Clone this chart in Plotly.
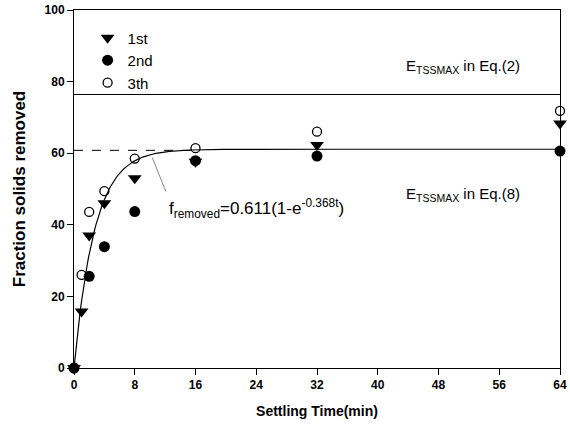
import numpy as np
import plotly.graph_objects as go

time_1st = [0, 1, 2, 4, 8, 16, 32, 64]
frac_1st = [0, 15.8, 37.0, 46.0, 53.0, 57.6, 62.3, 68.3]
time_2nd = [0, 2, 4, 8, 16, 32, 64]
frac_2nd = [0, 25.6, 33.9, 43.7, 57.9, 59.2, 60.6]
time_3rd = [0, 1, 2, 4, 8, 16, 32, 64]
frac_3rd = [0, 26.0, 43.6, 49.4, 58.5, 61.4, 66.0, 71.8]

fit_a = 0.611
fit_k = 0.368
e_tss_eq2 = 76.4
e_tss_eq8 = 60.8
x_ticks = [0, 8, 16, 24, 32, 40, 48, 56, 64]
y_ticks = [0, 20, 40, 60, 80, 100]

t_fit = np.linspace(0, 64, 400)
f_fit = 100 * fit_a * (1 - np.exp(-fit_k * t_fit))

fig = go.Figure()
fig.add_trace(go.Scatter(x=[0, 64], y=[e_tss_eq2, e_tss_eq2], mode="lines",
                         line=dict(color="black", width=1), showlegend=False))
fig.add_trace(go.Scatter(x=[0, 16], y=[e_tss_eq8, e_tss_eq8], mode="lines",
                         line=dict(color="black", width=1, dash="dash"), showlegend=False))
fig.add_trace(go.Scatter(x=t_fit, y=f_fit, mode="lines",
                         line=dict(color="black", width=1.2), showlegend=False))
fig.add_trace(go.Scatter(x=[10.3, 12.1], y=[58.8, 49.3], mode="lines",
                         line=dict(color="#888888", width=1), showlegend=False))

fig.add_trace(go.Scatter(x=time_1st, y=frac_1st, mode="markers", name="1st", cliponaxis=False,
                         marker=dict(symbol="triangle-down", size=12, color="black")))
fig.add_trace(go.Scatter(x=time_2nd, y=frac_2nd, mode="markers", name="2nd", cliponaxis=False,
                         marker=dict(symbol="circle", size=11, color="black")))
fig.add_trace(go.Scatter(x=time_3rd, y=frac_3rd, mode="markers", name="3th", cliponaxis=False,
                         marker=dict(symbol="circle-open", size=9, color="black",
                                     line=dict(width=1.3))))

ann_font = dict(family="Liberation Sans, Arial", size=15, color="black")
fig.add_annotation(x=12.3, y=44.5, xref="x", yref="y", xanchor="left", yanchor="middle",
                   text="f<sub>removed</sub>=0.611(1-e<sup>-0.368t</sup>)",
                   showarrow=False, font=dict(family="Liberation Sans, Arial", size=17, color="black"))
fig.add_annotation(x=43.5, y=84.3, xref="x", yref="y", xanchor="left", yanchor="middle",
                   text="E<sub>TSSMAX</sub> in Eq.(2)", showarrow=False, font=ann_font)
fig.add_annotation(x=43.5, y=48.5, xref="x", yref="y", xanchor="left", yanchor="middle",
                   text="E<sub>TSSMAX</sub> in Eq.(8)", showarrow=False, font=ann_font)

axis_common = dict(showline=True, linecolor="black", linewidth=1, mirror=True,
                   ticks="outside", ticklen=6, tickcolor="black", showgrid=False,
                   zeroline=False, automargin=False,
                   tickfont=dict(family="Liberation Sans, Arial", size=12, color="black", weight="bold"))

fig.update_layout(
    width=570, height=432,
    margin=dict(l=74, r=10, t=10, b=64),
    paper_bgcolor="white", plot_bgcolor="white",
    xaxis=dict(range=[0, 64], tickvals=x_ticks,
               title=dict(text="<b>Settling Time(min)</b>", standoff=14,
                          font=dict(family="Liberation Sans, Arial", size=14, color="black")),
               **axis_common),
    yaxis=dict(range=[0, 100], tickvals=y_ticks,
               title=dict(text="<b>Fraction solids removed</b>", standoff=14,
                          font=dict(family="Liberation Sans, Arial", size=17, color="black")),
               **axis_common),
    legend=dict(x=0.028, y=0.968, xanchor="left", yanchor="top", bgcolor="rgba(0,0,0,0)",
                font=dict(family="Liberation Sans, Arial", size=15, color="black"),
                itemsizing="trace", tracegroupgap=0),
)

fig.write_html("out.html", config={"displayModeBar": False},
               post_script="document.body.style.margin='0';document.body.style.overflow='hidden';")
